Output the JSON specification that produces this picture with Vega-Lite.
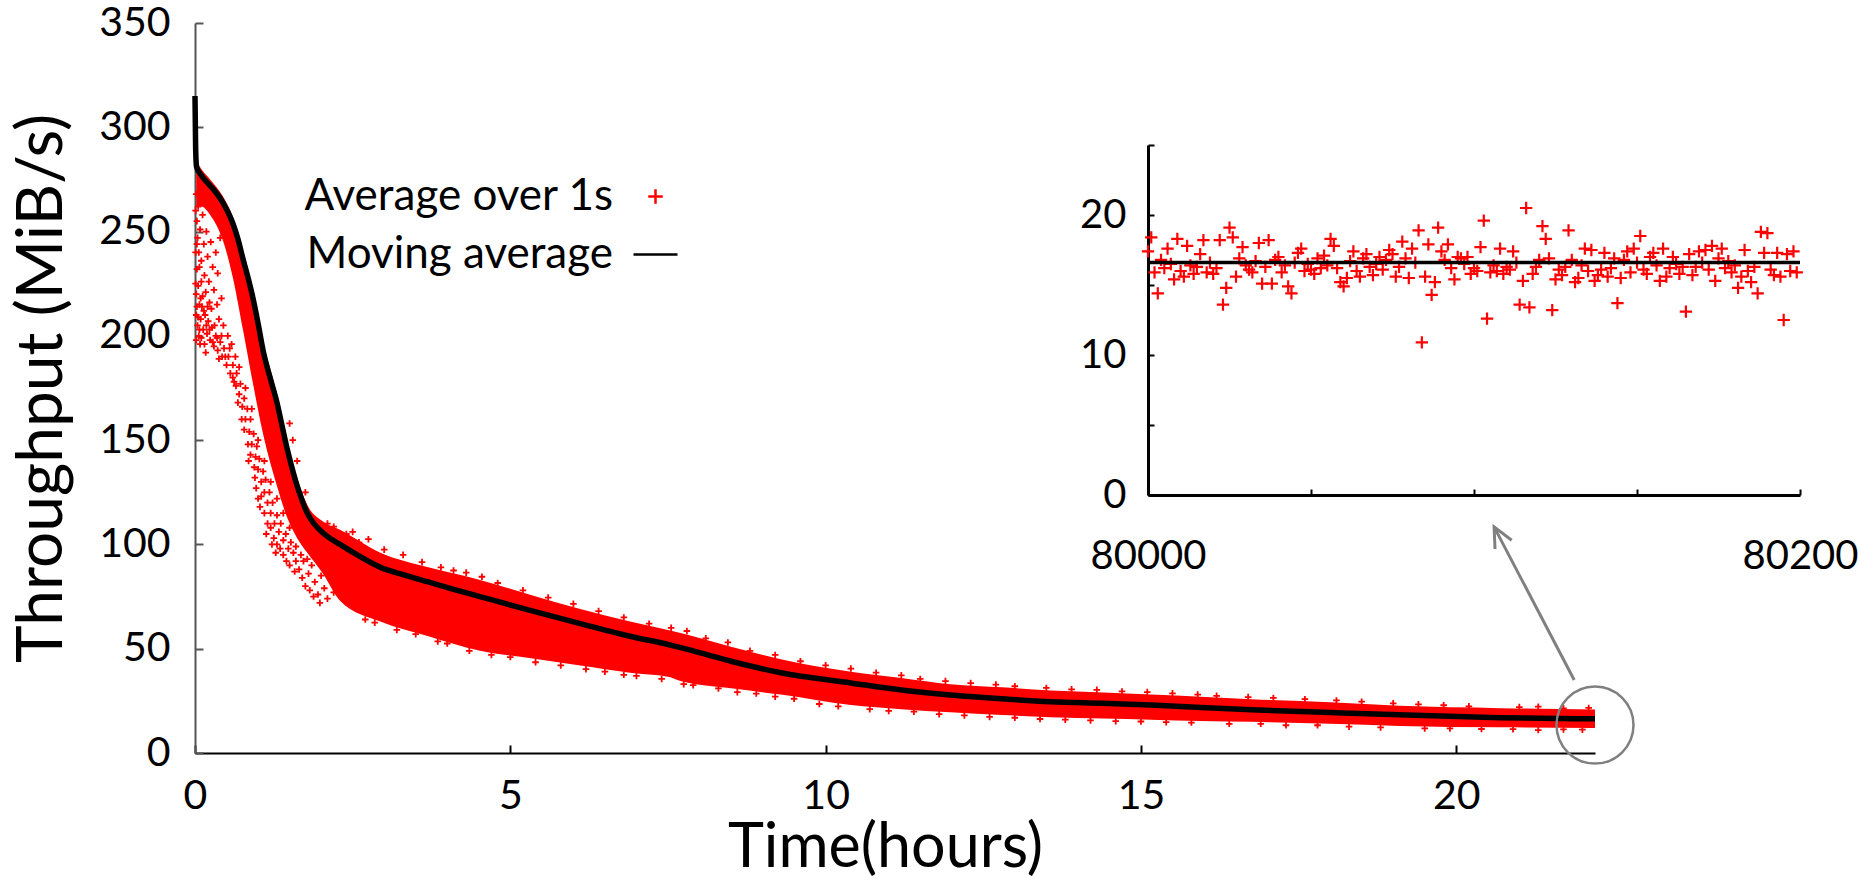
{
"$schema":"https://vega.github.io/schema/vega-lite/v6.json",
"width":1400,"height":730,
"autosize":{"type":"none"},
"padding":{"left":195,"top":23,"right":263,"bottom":125},
"config":{"view":{"stroke":null},"font":"Lato",
"axis":{"grid":false,"labelFont":"Lato","titleFont":"Lato","titleFontWeight":"normal","labelColor":"black","titleColor":"black","domainColor":"black","tickColor":"black","labelFlush":false},
"legend":{"orient":"none","legendX":437,"legendY":150,"title":null,"labelFont":"Lato","labelFontSize":44,"labelColor":"black","labelLimit":0,"symbolSize":1936,"symbolStrokeWidth":2.5,"labelAlign":"right","labelOffset":-66,"rowPadding":12,"padding":0}},
"datasets":{
"ma":[{"t":0,"v":315},{"t":0.01,"v":290},{"t":0.025,"v":281},{"t":0.1,"v":277},{"t":0.24,"v":272},{"t":0.34,"v":268.5},{"t":0.44,"v":264},{"t":0.52,"v":259.5},{"t":0.6,"v":254},{"t":0.68,"v":246.5},{"t":0.76,"v":237},{"t":0.84,"v":228},{"t":0.92,"v":218},{"t":1.0,"v":206},{"t":1.08,"v":193},{"t":1.19,"v":180},{"t":1.3,"v":168},{"t":1.38,"v":157},{"t":1.46,"v":146},{"t":1.54,"v":136.5},{"t":1.62,"v":128},{"t":1.7,"v":121},{"t":1.78,"v":115},{"t":1.9,"v":109.5},{"t":2.03,"v":105.5},{"t":2.3,"v":100},{"t":2.6,"v":94.5},{"t":2.94,"v":89},{"t":3.3,"v":85.5},{"t":3.7,"v":82},{"t":4.1,"v":78.5},{"t":4.52,"v":75},{"t":5.3,"v":68.5},{"t":6.11,"v":62},{"t":6.9,"v":56},{"t":7.5,"v":52},{"t":7.7,"v":50.5},{"t":8.1,"v":47.3},{"t":8.5,"v":44},{"t":9.29,"v":38.5},{"t":10.4,"v":33.6},{"t":11.2,"v":30.2},{"t":11.98,"v":27.8},{"t":12.8,"v":26},{"t":13.57,"v":24.6},{"t":14.4,"v":23.8},{"t":15.16,"v":23},{"t":15.95,"v":21.8},{"t":16.75,"v":20.7},{"t":18,"v":19.4},{"t":19.1,"v":18.3},{"t":20.7,"v":16.9},{"t":22.2,"v":16.4}],
"band":[{"t":0.02,"lo":262,"hi":284},{"t":0.1,"lo":262,"hi":280},{"t":0.24,"lo":258,"hi":275},{"t":0.44,"lo":246,"hi":267},{"t":0.6,"lo":228,"hi":257},{"t":0.76,"lo":203,"hi":241},{"t":0.92,"lo":177,"hi":222},{"t":1.08,"lo":153,"hi":197},{"t":1.3,"lo":128,"hi":172},{"t":1.46,"lo":113,"hi":149},{"t":1.62,"lo":103,"hi":132},{"t":1.78,"lo":96,"hi":119},{"t":2.03,"lo":86,"hi":111},{"t":2.3,"lo":73,"hi":107},{"t":2.94,"lo":63,"hi":96},{"t":3.7,"lo":56,"hi":89},{"t":4.52,"lo":49,"hi":83},{"t":5.3,"lo":45.5,"hi":76},{"t":6.11,"lo":42,"hi":69},{"t":6.9,"lo":38.5,"hi":63},{"t":7.5,"lo":36.5,"hi":59},{"t":7.7,"lo":34.5,"hi":57.5},{"t":8.5,"lo":31,"hi":51},{"t":9.29,"lo":28,"hi":45},{"t":10.4,"lo":23,"hi":39},{"t":11.2,"lo":21,"hi":36},{"t":11.98,"lo":19.5,"hi":33},{"t":12.8,"lo":18.2,"hi":31.5},{"t":13.57,"lo":17.2,"hi":30},{"t":14.4,"lo":16.5,"hi":29},{"t":15.16,"lo":16,"hi":28},{"t":15.95,"lo":15.4,"hi":27},{"t":16.75,"lo":15,"hi":25.8},{"t":18,"lo":14,"hi":24.3},{"t":19.1,"lo":13,"hi":22.6},{"t":20.7,"lo":12.3,"hi":21.5},{"t":22.2,"lo":12,"hi":20.8}],
"pts":[{"t":0.02,"v":268},{"t":0.03,"v":255},{"t":0.04,"v":247},{"t":0.05,"v":262},{"t":0.06,"v":240},{"t":0.08,"v":251},{"t":0.1,"v":236},{"t":0.12,"v":258},{"t":0.14,"v":244},{"t":0.15,"v":229},{"t":0.18,"v":250},{"t":0.2,"v":238},{"t":0.22,"v":226},{"t":0.25,"v":245},{"t":0.28,"v":233},{"t":0.3,"v":222},{"t":0.33,"v":240},{"t":0.36,"v":230},{"t":0.4,"v":247},{"t":0.03,"v":232},{"t":0.05,"v":224},{"t":0.07,"v":215},{"t":0.02,"v":210},{"t":0.04,"v":205},{"t":0.06,"v":200},{"t":0.09,"v":208},{"t":0.11,"v":214},{"t":0.13,"v":203},{"t":0.16,"v":210},{"t":0.19,"v":201},{"t":0.21,"v":207},{"t":0.24,"v":198},{"t":0.27,"v":204},{"t":0.3,"v":195},{"t":0.33,"v":200},{"t":0.36,"v":193},{"t":0.4,"v":197},{"t":0.43,"v":190},{"t":0.46,"v":194},{"t":0.5,"v":186},{"t":0.53,"v":190},{"t":0.56,"v":182},{"t":0.6,"v":186},{"t":0.02,"v":220},{"t":0.08,"v":196},{"t":0.12,"v":219},{"t":0.17,"v":192},{"t":0.26,"v":213},{"t":0.38,"v":208},{"t":0.45,"v":205},{"t":0.52,"v":200},{"t":0.58,"v":196},{"t":0.64,"v":190},
{"t":0.01,"v":240},{"t":0.01,"v":225},{"t":0.02,"v":198},{"t":0.03,"v":214},{"t":0.05,"v":209},{"t":0.07,"v":203},{"t":0.09,"v":218},{"t":0.1,"v":199},{"t":0.14,"v":212},{"t":0.15,"v":196},{"t":0.18,"v":205},{"t":0.2,"v":214},{"t":0.23,"v":203},{"t":0.28,"v":197},{"t":0.31,"v":205},{"t":0.35,"v":199},{"t":0.38,"v":189},{"t":0.42,"v":200},{"t":0.48,"v":190},{"t":0.55,"v":194},{"t":0.6,"v":180},{"t":0.65,"v":176},{"t":0.68,"v":168},{"t":0.74,"v":160},{"t":0.78,"v":155},{"t":0.84,"v":148},{"t":0.88,"v":143},{"t":0.94,"v":137},{"t":0.97,"v":127},{"t":1.03,"v":118},{"t":1.13,"v":105},{"t":1.22,"v":100},{"t":1.28,"v":96},{"t":1.45,"v":92},{"t":1.5,"v":90},{"t":1.58,"v":87},{"t":0.01,"v":260},{"t":0.03,"v":244},{"t":0.07,"v":233},{"t":0.1,"v":226},{"t":0.17,"v":221},{"t":0.23,"v":216},{"t":0.35,"v":215},{"t":0.42,"v":218},
{"t":0.62,"v":178},{"t":0.66,"v":182},{"t":0.7,"v":172},{"t":0.72,"v":177},{"t":0.75,"v":166},{"t":0.78,"v":170},{"t":0.8,"v":160},{"t":0.83,"v":165},{"t":0.86,"v":154},{"t":0.88,"v":160},{"t":0.9,"v":148},{"t":0.93,"v":153},{"t":0.96,"v":142},{"t":0.98,"v":147},{"t":1.0,"v":136},{"t":1.02,"v":141},{"t":1.05,"v":130},{"t":1.08,"v":135},{"t":1.1,"v":125},{"t":1.12,"v":131},{"t":1.15,"v":120},{"t":1.18,"v":125},{"t":1.2,"v":115},{"t":1.23,"v":120},{"t":1.26,"v":110},{"t":1.3,"v":114},{"t":1.33,"v":106},{"t":1.36,"v":110},{"t":1.4,"v":102},{"t":1.44,"v":105},{"t":1.48,"v":98},{"t":1.52,"v":101},{"t":1.56,"v":96},{"t":1.6,"v":99},{"t":0.7,"v":185},{"t":0.8,"v":175},{"t":0.9,"v":165},{"t":1.0,"v":150},{"t":1.1,"v":140},{"t":1.2,"v":130},{"t":1.3,"v":122},{"t":1.4,"v":115},{"t":1.5,"v":108},{"t":0.85,"v":140},{"t":0.95,"v":132},{"t":1.05,"v":123},{"t":1.15,"v":110},{"t":1.25,"v":103},{"t":1.35,"v":98},{"t":1.0,"v":122},{"t":1.1,"v":115},{"t":1.2,"v":108},{"t":1.3,"v":100},{"t":1.4,"v":95},{"t":1.55,"v":150},{"t":1.62,"v":140},{"t":1.5,"v":158},
{"t":1.65,"v":88},{"t":1.7,"v":84},{"t":1.72,"v":92},{"t":1.75,"v":80},{"t":1.8,"v":86},{"t":1.82,"v":78},{"t":1.85,"v":90},{"t":1.9,"v":82},{"t":1.95,"v":76},{"t":2.0,"v":85},{"t":2.05,"v":79},{"t":2.1,"v":74},{"t":2.15,"v":83},{"t":1.68,"v":95},{"t":1.78,"v":93},{"t":1.88,"v":75},{"t":1.98,"v":72},{"t":2.2,"v":77},{"t":1.6,"v":92},
{"t":1.9,"v":112},{"t":2.1,"v":110},{"t":2.2,"v":108.5},{"t":1.75,"v":125},{"t":2.4,"v":105},{"t":2.6,"v":101},
{"t":2.5,"v":106},{"t":3.0,"v":97.5},{"t":3.3,"v":95},{"t":3.9,"v":89},{"t":4.3,"v":86.5},{"t":4.8,"v":81.5},{"t":5.6,"v":74.5},{"t":6.4,"v":68},{"t":7.2,"v":62},{"t":7.55,"v":60},{"t":8.1,"v":55},{"t":8.8,"v":49},{"t":9.6,"v":44},{"t":10.0,"v":42},{"t":10.8,"v":38.5},{"t":11.5,"v":35.5},{"t":12.3,"v":33.5},{"t":13.0,"v":32},{"t":13.9,"v":30.5},{"t":14.7,"v":29.5},{"t":15.5,"v":28.6},{"t":16.2,"v":27.4},{"t":17.1,"v":26.4},{"t":17.6,"v":25.8},{"t":18.5,"v":24.6},{"t":19.4,"v":23.3},{"t":20.2,"v":22.4},{"t":21.0,"v":22},{"t":21.7,"v":21.4},
{"t":2.75,"v":102.5},{"t":3.6,"v":91.5},{"t":4.1,"v":87.5},{"t":4.55,"v":84.5},{"t":5.2,"v":78},{"t":6.0,"v":71.5},{"t":6.8,"v":65},{"t":7.8,"v":58.5},{"t":8.45,"v":53},{"t":9.2,"v":47},{"t":10.4,"v":40.5},{"t":11.2,"v":37.2},{"t":11.9,"v":34.5},{"t":12.7,"v":32.8},{"t":13.5,"v":31.2},{"t":14.3,"v":30.3},{"t":15.1,"v":29.2},{"t":15.9,"v":28},{"t":16.7,"v":26.8},{"t":18.1,"v":25.2},{"t":19.0,"v":23.8},{"t":19.8,"v":22.9},{"t":21.3,"v":22.2},{"t":22.1,"v":21.6},
{"t":2.7,"v":64},{"t":3.2,"v":59},{"t":3.5,"v":57},{"t":4.0,"v":52.5},{"t":4.7,"v":47},{"t":5.0,"v":46},{"t":5.8,"v":42},{"t":6.5,"v":39},{"t":7.0,"v":37},{"t":7.9,"v":32.5},{"t":8.3,"v":31},{"t":8.9,"v":28.5},{"t":9.5,"v":26},{"t":9.9,"v":23.5},{"t":10.7,"v":21},{"t":11.4,"v":19.8},{"t":12.2,"v":18},{"t":13.0,"v":16.9},{"t":13.8,"v":16},{"t":14.6,"v":15.3},{"t":15.4,"v":14.8},{"t":16.4,"v":14},{"t":17.3,"v":13.3},{"t":18.3,"v":12.6},{"t":19.5,"v":11.8},{"t":20.4,"v":11.5},{"t":21.3,"v":11},{"t":22.0,"v":11.2},
{"t":2.85,"v":62.5},{"t":3.85,"v":53.5},{"t":4.35,"v":49},{"t":5.4,"v":43.5},{"t":6.2,"v":40.2},{"t":6.8,"v":37.5},{"t":7.4,"v":35.5},{"t":7.75,"v":33},{"t":8.6,"v":29.2},{"t":9.2,"v":27},{"t":10.2,"v":22.4},{"t":11.0,"v":20.2},{"t":11.8,"v":18.6},{"t":12.6,"v":17.3},{"t":13.4,"v":16.3},{"t":14.2,"v":15.6},{"t":15.0,"v":15.1},{"t":15.8,"v":14.6},{"t":16.9,"v":14},{"t":17.8,"v":13.3},{"t":18.8,"v":12.3},{"t":19.9,"v":11.8},{"t":20.9,"v":11.4},{"t":21.7,"v":11.3}],
"ins":[{"s":80000,"v":17.4},{"s":80001,"v":18.4},{"s":80002,"v":15.9},{"s":80003,"v":14.4},{"s":80004,"v":16.8},{"s":80005,"v":16.2},{"s":80006,"v":17.6},{"s":80007,"v":16.5},{"s":80008,"v":15.4},{"s":80009,"v":18.3},{"s":80010,"v":16.0},{"s":80011,"v":15.6},{"s":80012,"v":17.8},{"s":80013,"v":16.4},{"s":80014,"v":15.8},{"s":80015,"v":16.3},{"s":80016,"v":17.2},{"s":80017,"v":18.2},{"s":80018,"v":15.9},{"s":80019,"v":16.6},{"s":80020,"v":15.8},{"s":80021,"v":16.2},{"s":80022,"v":18.2},{"s":80023,"v":13.6},{"s":80024,"v":14.8},{"s":80025,"v":19.1},{"s":80026,"v":18.4},{"s":80027,"v":15.6},{"s":80028,"v":16.9},{"s":80029,"v":17.7},{"s":80030,"v":16.4},{"s":80031,"v":16.1},{"s":80032,"v":15.9},{"s":80033,"v":16.7},{"s":80034,"v":18.0},{"s":80035,"v":15.1},{"s":80036,"v":16.3},{"s":80037,"v":18.2},{"s":80038,"v":15.1},{"s":80039,"v":16.8},{"s":80040,"v":17.0},{"s":80041,"v":15.9},{"s":80042,"v":16.4},{"s":80043,"v":14.9},{"s":80044,"v":14.4},{"s":80045,"v":16.6},{"s":80046,"v":17.3},{"s":80047,"v":17.6},{"s":80048,"v":16.0},{"s":80049,"v":16.5},{"s":80050,"v":16.1},{"s":80051,"v":15.8},{"s":80052,"v":16.9},{"s":80053,"v":16.2},{"s":80054,"v":17.1},{"s":80055,"v":16.4},{"s":80056,"v":18.3},{"s":80057,"v":17.8},{"s":80058,"v":16.2},{"s":80059,"v":15.2},{"s":80060,"v":14.9},{"s":80061,"v":15.5},{"s":80062,"v":16.7},{"s":80063,"v":17.4},{"s":80064,"v":16.0},{"s":80065,"v":15.6},{"s":80066,"v":16.9},{"s":80067,"v":17.2},{"s":80068,"v":16.3},{"s":80069,"v":15.7},{"s":80070,"v":16.5},{"s":80071,"v":17.0},{"s":80072,"v":16.1},{"s":80073,"v":16.8},{"s":80074,"v":17.5},{"s":80075,"v":17.2},{"s":80076,"v":15.6},{"s":80077,"v":16.3},{"s":80078,"v":18.1},{"s":80079,"v":16.9},{"s":80080,"v":15.5},{"s":80081,"v":17.6},{"s":80082,"v":16.6},{"s":80083,"v":18.9},{"s":80084,"v":10.9},{"s":80085,"v":15.6},{"s":80086,"v":17.9},{"s":80087,"v":14.3},{"s":80088,"v":15.2},{"s":80089,"v":19.1},{"s":80090,"v":17.4},{"s":80091,"v":16.8},{"s":80092,"v":17.9},{"s":80093,"v":16.2},{"s":80094,"v":15.4},{"s":80095,"v":17.0},{"s":80096,"v":16.9},{"s":80097,"v":16.5},{"s":80098,"v":17.0},{"s":80099,"v":15.8},{"s":80100,"v":16.2},{"s":80101,"v":16.0},{"s":80102,"v":17.7},{"s":80103,"v":19.6},{"s":80104,"v":12.6},{"s":80105,"v":15.9},{"s":80106,"v":16.4},{"s":80107,"v":16.0},{"s":80108,"v":17.6},{"s":80109,"v":15.8},{"s":80110,"v":16.3},{"s":80111,"v":16.1},{"s":80112,"v":17.4},{"s":80113,"v":16.6},{"s":80114,"v":13.6},{"s":80115,"v":15.3},{"s":80116,"v":20.5},{"s":80117,"v":13.4},{"s":80118,"v":15.8},{"s":80119,"v":16.3},{"s":80120,"v":16.8},{"s":80121,"v":19.2},{"s":80122,"v":18.3},{"s":80123,"v":16.9},{"s":80124,"v":13.2},{"s":80125,"v":15.4},{"s":80126,"v":16.1},{"s":80127,"v":15.7},{"s":80128,"v":16.3},{"s":80129,"v":18.9},{"s":80130,"v":16.8},{"s":80131,"v":15.2},{"s":80132,"v":15.5},{"s":80133,"v":16.4},{"s":80134,"v":17.6},{"s":80135,"v":16.0},{"s":80136,"v":17.5},{"s":80137,"v":15.3},{"s":80138,"v":15.7},{"s":80139,"v":16.1},{"s":80140,"v":17.3},{"s":80141,"v":15.6},{"s":80142,"v":16.2},{"s":80143,"v":16.9},{"s":80144,"v":13.7},{"s":80145,"v":15.5},{"s":80146,"v":16.8},{"s":80147,"v":17.4},{"s":80148,"v":15.9},{"s":80149,"v":17.6},{"s":80150,"v":16.6},{"s":80151,"v":18.5},{"s":80152,"v":16.1},{"s":80153,"v":15.8},{"s":80154,"v":17.0},{"s":80155,"v":17.3},{"s":80156,"v":16.4},{"s":80157,"v":15.3},{"s":80158,"v":17.6},{"s":80159,"v":15.6},{"s":80160,"v":16.2},{"s":80161,"v":17.0},{"s":80162,"v":16.5},{"s":80163,"v":15.8},{"s":80164,"v":16.3},{"s":80165,"v":13.1},{"s":80166,"v":17.2},{"s":80167,"v":15.7},{"s":80168,"v":16.3},{"s":80169,"v":17.4},{"s":80170,"v":16.6},{"s":80171,"v":17.5},{"s":80172,"v":16.1},{"s":80173,"v":17.8},{"s":80174,"v":15.3},{"s":80175,"v":16.9},{"s":80176,"v":17.6},{"s":80177,"v":16.2},{"s":80178,"v":16.7},{"s":80179,"v":15.9},{"s":80180,"v":16.4},{"s":80181,"v":14.8},{"s":80182,"v":15.6},{"s":80183,"v":17.5},{"s":80184,"v":16.0},{"s":80185,"v":15.2},{"s":80186,"v":16.3},{"s":80187,"v":14.4},{"s":80188,"v":18.8},{"s":80189,"v":17.3},{"s":80190,"v":18.7},{"s":80191,"v":16.1},{"s":80192,"v":15.7},{"s":80193,"v":17.3},{"s":80194,"v":15.6},{"s":80195,"v":12.5},{"s":80196,"v":17.2},{"s":80197,"v":16.0},{"s":80198,"v":17.4},{"s":80199,"v":15.9}],
"insma":[{"s":80000,"v":16.6},{"s":80200,"v":16.6}]
},
"layer":[
{"encoding":{
"x":{"field":"t","type":"quantitative","scale":{"domain":[0,22.2],"nice":false,"zero":false},"axis":{"values":[0,5,10,15,20],"title":"Time(hours)","labelFontSize":41,"titleFontSize":61,"tickSize":-8,"tickWidth":2,"domainWidth":2,"labelPadding":31,"titlePadding":2,"titleX":690}},
"y":{"field":"v","type":"quantitative","scale":{"domain":[0,350],"nice":false},"axis":{"values":[0,50,100,150,200,250,300,350],"title":"Throughput (MiB/s)","labelFontSize":41,"titleFontSize":64,"tickSize":-8,"tickWidth":2,"domainWidth":2,"domainColor":"#555","tickColor":"#555","labelPadding":33,"titlePadding":24}}},
"layer":[
{"data":{"name":"band"},"mark":{"type":"area","color":"#ff0000","opacity":1,"interpolate":"monotone"},"encoding":{"y":{"field":"lo","type":"quantitative"},"y2":{"field":"hi"}}},
{"data":{"name":"pts"},"mark":{"type":"point","filled":false,"size":400,"strokeWidth":1.8,"opacity":1},
 "encoding":{"color":{"datum":"Average over 1s","type":"nominal","scale":{"domain":["Average over 1s","Moving average"],"range":["#ff0000","#000000"]}},
 "shape":{"datum":"Average over 1s","type":"nominal","scale":{"domain":["Average over 1s","Moving average"],"range":["M-0.33,0H0.33M0,-0.33V0.33","M-1,0H1"]}}}},
{"data":{"name":"ma"},"mark":{"type":"line","color":"#000000","strokeWidth":5.5,"interpolate":"monotone"},"encoding":{}},
{"data":{"values":[{"t":22.2,"v":13.4}]},"mark":{"type":"point","shape":"circle","size":5929,"filled":false,"stroke":"#808080","strokeWidth":2.5,"opacity":1},"encoding":{}},
{"data":{"values":[{"t":21.87,"v":35,"t2":20.6,"v2":108.4}]},"mark":{"type":"rule","color":"#808080","strokeWidth":3},"encoding":{"x2":{"field":"t2"},"y2":{"field":"v2"}}},
{"data":{"values":[{"t":20.6,"v":108.4}]},"mark":{"type":"point","shape":"M-0.47,1L0,0L0.47,1","angle":-27.6,"size":1600,"filled":false,"stroke":"#808080","strokeWidth":3,"opacity":1},"encoding":{}}
]},
{"encoding":{
"x":{"field":"s","type":"quantitative","scale":{"domain":[80000,80200],"range":[953,1605],"nice":false,"zero":false},"axis":{"orient":"bottom","offset":-258,"values":[80000,80050,80100,80150,80200],"format":"d","labelExpr":"datum.value == 80000 || datum.value == 80200 ? datum.label : ''","title":null,"labelFontSize":40,"tickSize":-6,"tickWidth":2,"domainWidth":3,"labelPadding":47,"encode":{"labels":{"update":{"dx":{"signal":"datum.value == 80200 ? -21 : -9"}}}}}},
"y":{"field":"v","type":"quantitative","scale":{"domain":[0,25],"range":[472,122],"nice":false},"axis":{"orient":"left","offset":-953,"values":[0,5,10,15,20,25],"labelExpr":"datum.value % 10 == 0 ? datum.label : ''","title":null,"labelFontSize":40,"tickSize":-6,"tickWidth":2,"domainWidth":3,"labelPadding":28}}},
"layer":[
{"data":{"name":"ins"},"mark":{"type":"point","shape":"M-0.33,0H0.33M0,-0.33V0.33","size":1400,"filled":false,"color":"#ff0000","strokeWidth":2.2,"opacity":1},"encoding":{}},
{"data":{"name":"insma"},"mark":{"type":"line","color":"#000000","strokeWidth":3.5},"encoding":{}}
]}
],
"resolve":{"scale":{"x":"independent","y":"independent"},"axis":{"x":"independent","y":"independent"}}
}
